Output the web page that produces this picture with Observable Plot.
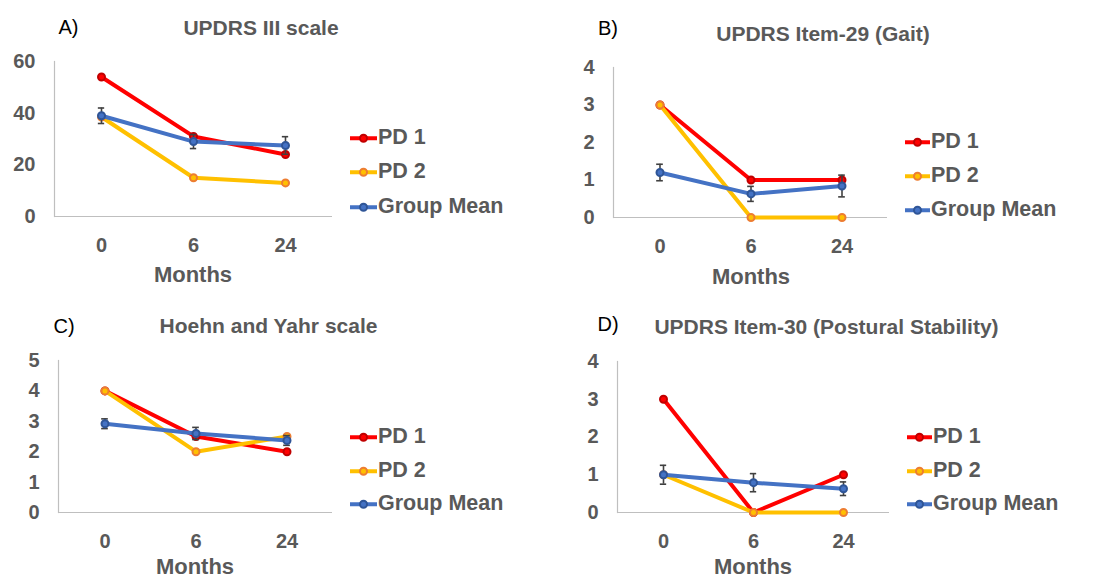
<!DOCTYPE html>
<html>
<head>
<meta charset="utf-8">
<script src="https://cdn.jsdelivr.net/npm/d3@7"></script>
<script src="https://cdn.jsdelivr.net/npm/@observablehq/plot@0.6"></script>
<style>
  body { margin: 0; background: #fff; font-family: "Liberation Sans", Arial, sans-serif; }
  #root { position: relative; width: 1102px; height: 580px; overflow: hidden; background: #fff; }
  .abs { position: absolute; white-space: nowrap; line-height: 1; }
  .letter { font-size: 20px; color: #000; transform: translate(-50%, -50%); }
  .title { font-size: 21px; font-weight: bold; color: #595959; transform: translate(-50%, -50%); }
  .xlabel { font-size: 22px; font-weight: bold; color: #595959; transform: translate(-50%, -50%); }
  .leg { display: flex; align-items: center; transform: translateY(-50%); font-size: 21.5px; font-weight: bold; color: #595959; }
  .leg svg { display: block; margin-right: 1px; }
  .plotbox { position: absolute; }
</style>
</head>
<body>
<div id="root"></div>
<script>
// ---------- data ----------
const months = ["0", "6", "24"];
const seriesNames = ["PD 1", "PD 2", "Group Mean"];
const panelLetters = ["A)", "B)", "C)", "D)"];
const panelTitles = ["UPDRS III scale", "UPDRS Item-29 (Gait)", "Hoehn and Yahr scale", "UPDRS Item-30 (Postural Stability)"];
const xAxisLabel = "Months";

const yTicksA = [0, 20, 40, 60];
const yTicksB = [0, 1, 2, 3, 4];
const yTicksC = [0, 1, 2, 3, 4, 5];
const yTicksD = [0, 1, 2, 3, 4];

const pd1A = [54, 31, 24];
const pd2A = [38.5, 15, 13];
const meanA = [39, 29, 27.5];
const errA = [3, 2.7, 3.4];

const pd1B = [3, 1, 1];
const pd2B = [3, 0, 0];
const meanB = [1.2, 0.63, 0.84];
const errB = [0.22, 0.2, 0.29];

const pd1C = [4, 2.5, 2];
const pd2C = [4, 2, 2.5];
const meanC = [2.92, 2.6, 2.37];
const errC = [0.16, 0.2, 0.16];

const pd1D = [3, 0, 1];
const pd2D = [1, 0, 0];
const meanD = [1.0, 0.79, 0.63];
const errD = [0.25, 0.24, 0.18];

// ---------- styles ----------
const lineColors = ["#FF0000", "#FFC000", "#4472C4"];
const markerColors = ["#C00000", "#ED7D31", "#2F5597"];
const textColor = "#595959";
const axisColor = "#BFBFBF";
const errColor = "#404040";
const fontFamily = '"Liberation Sans", Arial, sans-serif';

// layout per panel
const panels = [
  {left: 0,   top: 0,   m: [61, 219, 74, 54], ticks: yTicksA, pd1: pd1A, pd2: pd2A, mean: meanA, err: errA,
   letter: [68.5, 26.5], title: [261, 26.5], xlab: [193, 275], leg: {x: 350, w: 27, rows: [138, 172, 207]}},
  {left: 551, top: 0,   m: [67, 215, 73, 62], ticks: yTicksB, pd1: pd1B, pd2: pd2B, mean: meanB, err: errB,
   letter: [608, 28], title: [823, 32.5], xlab: [751, 277], leg: {x: 905, w: 25, rows: [142, 176, 210]}},
  {left: 0,   top: 290, m: [70, 219, 68, 58], ticks: yTicksC, pd1: pd1C, pd2: pd2C, mean: meanC, err: errC,
   letter: [64, 326], title: [268.5, 325], xlab: [195, 567], leg: {x: 350, w: 27, rows: [437, 471, 504]}},
  {left: 551, top: 290, m: [71, 213, 68, 66], ticks: yTicksD, pd1: pd1D, pd2: pd2D, mean: meanD, err: errD,
   letter: [608, 323.5], title: [826.5, 326], xlab: [753, 567], leg: {x: 907, w: 25, rows: [437, 471, 504]}}
];

const root = document.getElementById("root");
const W = 551, H = 290;

panels.forEach((p, k) => {
  const [mt, mr, mb, ml] = p.m;
  const bandW = (W - ml - mr) / months.length;
  const capInset = (bandW - 7) / 2;
  const vals = [p.pd1, p.pd2, p.mean];
  const rowsFor = (s) => months.map((m, i) => ({month: m, series: seriesNames[s], value: vals[s][i]}));
  const errRows = months.map((m, i) => ({month: m, lo: p.mean[i] - p.err[i], hi: p.mean[i] + p.err[i]}));

  const marks = [
    Plot.frame({anchor: "left", stroke: axisColor, strokeWidth: 1.2}),
    Plot.ruleY([0], {stroke: axisColor, strokeWidth: 1.2}),
    Plot.axisX({tickSize: 0, tickPadding: 21, label: null, fill: textColor}),
    Plot.axisY({ticks: p.ticks, tickSize: 0, tickPadding: 19, label: null, fill: textColor, tickFormat: d3.format("d")})
  ];
  [0, 1].forEach(s => {
    marks.push(Plot.line(rowsFor(s), {x: "month", y: "value", stroke: lineColors[s], strokeWidth: 4}));
    marks.push(Plot.dot(rowsFor(s), {x: "month", y: "value", r: 3.5, fill: lineColors[s], stroke: markerColors[s], strokeWidth: 2}));
  });
  marks.push(Plot.line(rowsFor(2), {x: "month", y: "value", stroke: lineColors[2], strokeWidth: 4}));
  marks.push(Plot.ruleX(errRows, {x: "month", y1: "lo", y2: "hi", stroke: errColor, strokeWidth: 1.6}));
  marks.push(Plot.tickY(errRows, {x: "month", y: "lo", stroke: errColor, strokeWidth: 1.6, insetLeft: capInset, insetRight: capInset}));
  marks.push(Plot.tickY(errRows, {x: "month", y: "hi", stroke: errColor, strokeWidth: 1.6, insetLeft: capInset, insetRight: capInset}));
  marks.push(Plot.dot(rowsFor(2), {x: "month", y: "value", r: 3.5, fill: lineColors[2], stroke: markerColors[2], strokeWidth: 2}));

  const chart = Plot.plot({
    width: W, height: H,
    marginTop: mt, marginRight: mr, marginBottom: mb, marginLeft: ml,
    x: {type: "band", domain: months, padding: 0, label: null},
    y: {domain: [0, p.ticks[p.ticks.length - 1]], label: null},
    style: {fontFamily, fontSize: "20px", fontWeight: "bold", color: textColor, background: "transparent", overflow: "visible"},
    marks
  });
  const box = document.createElement("div");
  box.className = "plotbox";
  box.style.left = p.left + "px";
  box.style.top = p.top + "px";
  box.appendChild(chart);
  root.appendChild(box);

  // panel letter, title, x label
  const mk = (cls, txt, xy) => {
    const d = document.createElement("div");
    d.className = "abs " + cls;
    d.textContent = txt;
    d.style.left = xy[0] + "px";
    d.style.top = xy[1] + "px";
    root.appendChild(d);
  };
  mk("letter", panelLetters[k], p.letter);
  mk("title", panelTitles[k], p.title);
  mk("xlabel", xAxisLabel, p.xlab);

  // legend
  seriesNames.forEach((name, s) => {
    const row = document.createElement("div");
    row.className = "abs leg";
    row.style.left = p.leg.x + "px";
    row.style.top = p.leg.rows[s] + "px";
    const w = p.leg.w;
    row.innerHTML = `<svg width="${w}" height="12"><line x1="0" x2="${w}" y1="6" y2="6" stroke="${lineColors[s]}" stroke-width="4"/><circle cx="${w/2}" cy="6" r="3.5" fill="${lineColors[s]}" stroke="${markerColors[s]}" stroke-width="2"/></svg><span>${name}</span>`;
    root.appendChild(row);
  });
});
</script>
</body>
</html>
